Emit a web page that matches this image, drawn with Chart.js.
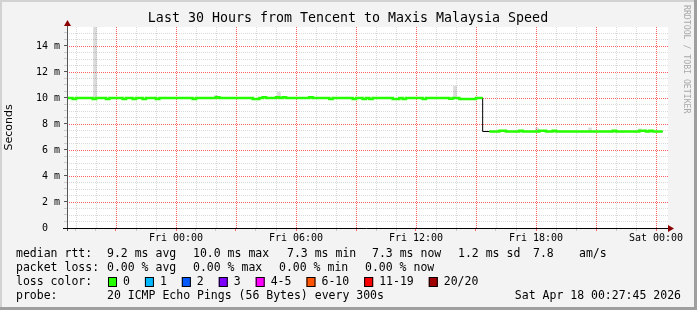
<!DOCTYPE html>
<html>
<head>
<meta charset="utf-8">
<title>Last 30 Hours from Tencent to Maxis Malaysia Speed</title>
<script src="https://cdn.jsdelivr.net/npm/chart.js@4.4.1/dist/chart.umd.min.js"></script>
<style>
    html, body { margin: 0; padding: 0; background: #f3f3f3; }
    #wrap { width: 697px; height: 310px; }
</style>
</head>
<body>
<div id="wrap"><canvas id="pingChart" width="697" height="310"></canvas></div>
<script>
// time is in hours counted from Thu 00:00, one median every 10 minutes
const startHour = 18.5;
const stepHour = 1 / 6;

// median rtt in ms
const medianMs = [
    10.0, 10.0, 10.0, 9.93, 10.0, 10.0, 10.0, 10.0, 10.0, 9.93,
    10.0, 10.0, 10.0, 9.93, 10.0, 10.0, 10.0, 10.0, 9.93, 10.0,
    10.0, 9.93, 10.0, 10.0, 9.93, 10.0, 10.0, 10.0, 9.93, 10.0,
    10.0, 10.0, 10.0, 10.0, 10.0, 10.0, 10.0, 10.0, 10.0, 9.93,
    10.0, 10.0, 10.0, 10.0, 10.0, 10.0, 10.05, 10.0, 10.0, 10.0,
    10.0, 10.0, 10.0, 10.0, 10.0, 10.0, 10.0, 9.93, 9.93, 10.0,
    10.05, 10.0, 10.0, 10.0, 10.05, 10.0, 10.05, 10.0, 10.0, 10.0,
    10.0, 10.0, 10.0, 10.0, 10.05, 10.0, 10.0, 10.0, 10.0, 10.0,
    9.93, 10.0, 10.0, 10.0, 10.0, 10.0, 10.0, 9.93, 10.0, 10.0,
    9.93, 10.0, 9.93, 10.0, 10.0, 10.0, 10.0, 10.0, 10.0, 9.93,
    9.93, 10.0, 9.93, 10.0, 10.0, 10.0, 10.0, 10.0, 9.93, 10.0,
    10.0, 10.0, 10.0, 10.0, 10.0, 10.0, 9.95, 10.0, 10.0, 9.93,
    9.93, 9.93, 9.93, 9.93, 10.0, 10.0,
    7.42, 7.42, 7.42, 7.42, 7.42, 7.48, 7.48, 7.42, 7.42, 7.42,
    7.42, 7.48, 7.42, 7.42, 7.42, 7.42, 7.42, 7.48, 7.48, 7.42,
    7.42, 7.48, 7.42, 7.42, 7.42, 7.42, 7.42, 7.42, 7.42, 7.42,
    7.42, 7.42, 7.42, 7.42, 7.42, 7.42, 7.42, 7.42, 7.42, 7.48,
    7.42, 7.42, 7.42, 7.42, 7.42, 7.42, 7.42, 7.48, 7.48, 7.42,
    7.48, 7.42, 7.42, 7.42
];
// samples where the loss-colour line is broken (the step down)
const lineBreaks = [126];

// smoke (spread of the pings), only where it sticks out of the median line
const smokeHour = [19.95, 26.0, 29.15, 37.95, 42.05, 44.7, 47.2];
const smokeLo = [9.9, 10.0, 10.0, 10.0, 7.42, 7.42, 7.42];
const smokeHi = [15.46, 10.2, 10.45, 10.9, 7.7, 7.7, 7.62];

const tickHours = [24, 30, 36, 42, 48];
const tickLabels = ['Fri 00:00', 'Fri 06:00', 'Fri 12:00', 'Fri 18:00', 'Sat 00:00'];

const titleText = 'Last 30 Hours from Tencent to Maxis Malaysia Speed';
const rttStats = ['9.2 ms avg', '10.0 ms max', '7.3 ms min', '7.3 ms now', '1.2 ms sd', '7.8', 'am/s'];
const lossStats = ['0.00 % avg', '0.00 % max', '0.00 % min', '0.00 % now'];
const lossLabels = ['0', '1', '2', '3', '4-5', '6-10', '11-19', '20/20'];
const lossColors = ['#26ff00', '#00b8ff', '#0059ff', '#7e00ff', '#ff00ff', '#ff5500', '#ff0000', '#a10000'];
const probeText = '20 ICMP Echo Pings (56 Bytes) every 300s';
const stampText = 'Sat Apr 18 00:27:45 2026';

const MONO = '"DejaVu Sans Mono", monospace';
const RED_GRID = '#ff6060';
const GRAY_GRID = '#dadada';

function isMultiple(v, step) {
    return Math.abs(v / step - Math.round(v / step)) < 1e-6;
}

// one grid line every `step`, rrdtool style (chart.js would thin them out)
function gridEvery(step) {
    return function(scale) {
        const ticks = [];
        for (let v = Math.ceil(scale.min / step) * step; v <= scale.max + 1e-9; v += step) {
            ticks.push({ value: Math.round(v * 1000) / 1000 });
        }
        scale.ticks = ticks;
    };
}

function majorColor(step, major, minor) {
    return c => {
        const t = c.tick || (c.scale && c.scale.ticks[c.index]);
        return (t && isMultiple(t.value, step)) ? major : minor;
    };
}

// dotted rrdtool grid, placed from the scales' own ticks
const rrdGrid = {
    id: 'rrdGrid',
    beforeDatasetsDraw(chart) {
        const { ctx, chartArea: a, scales } = chart;
        ctx.save();
        ctx.lineWidth = 1;
        ctx.setLineDash([1, 1]);
        // minor lines first so the red ones sit on top
        [false, true].forEach(major => {
            scales.x.ticks.forEach(t => {
                if (isMultiple(t.value, 3) !== major) return;
                const x = Math.round(scales.x.getPixelForValue(t.value)) + 0.5;
                ctx.strokeStyle = major ? RED_GRID : GRAY_GRID;
                ctx.beginPath();
                ctx.moveTo(x, Math.round(a.top));
                ctx.lineTo(x, Math.round(a.bottom));
                ctx.stroke();
            });
            scales.y.ticks.forEach(t => {
                if (t.value === 0 || isMultiple(t.value, 2) !== major) return;
                const y = Math.round(scales.y.getPixelForValue(t.value)) + 0.5;
                ctx.strokeStyle = major ? RED_GRID : GRAY_GRID;
                ctx.beginPath();
                ctx.moveTo(Math.round(a.left), y);
                ctx.lineTo(Math.round(a.right), y);
                ctx.stroke();
            });
        });
        ctx.restore();
    }
};

const rrdFrame = {
    id: 'rrdFrame',
    beforeDraw(chart) {
        const { ctx, chartArea: a, width, height } = chart;
        ctx.save();
        ctx.fillStyle = '#f3f3f3';
        ctx.fillRect(0, 0, width, height);
        ctx.fillStyle = '#ffffff';
        ctx.fillRect(a.left, a.top, a.right - a.left, a.bottom - a.top);
        ctx.restore();
    },
    afterDraw(chart) {
        const { ctx, chartArea: a, width, height } = chart;
        ctx.save();
        // 3d-ish frame round the image
        ctx.fillStyle = '#d2d2d2';
        ctx.fillRect(0, 0, width, 2);
        ctx.fillRect(0, 0, 2, height);
        ctx.fillStyle = '#9f9f9f';
        ctx.fillRect(0, height - 3, width, 3);
        ctx.fillRect(width - 3, 0, 3, height);

        // axes with arrows
        ctx.lineWidth = 1;
        ctx.strokeStyle = '#555';
        ctx.beginPath();
        ctx.moveTo(a.left + 0.5, a.bottom + 3);
        ctx.lineTo(a.left + 0.5, a.top - 4);
        ctx.stroke();
        ctx.strokeStyle = '#000';
        ctx.beginPath();
        ctx.moveTo(a.left - 4, a.bottom + 0.5);
        ctx.lineTo(a.right + 2, a.bottom + 0.5);
        ctx.stroke();
        ctx.fillStyle = '#8b0000';
        ctx.beginPath();
        ctx.moveTo(a.left + 0.5, a.top - 7);
        ctx.lineTo(a.left + 4, a.top - 1);
        ctx.lineTo(a.left - 3, a.top - 1);
        ctx.closePath();
        ctx.fill();
        ctx.beginPath();
        ctx.moveTo(a.right + 6, a.bottom + 0.5);
        ctx.lineTo(a.right, a.bottom - 3);
        ctx.lineTo(a.right, a.bottom + 4);
        ctx.closePath();
        ctx.fill();

        // title
        ctx.fillStyle = '#000';
        ctx.textBaseline = 'middle';
        ctx.textAlign = 'center';
        ctx.font = '13.3px ' + MONO;
        ctx.fillText(titleText, 348, 19);

        // rrdtool watermark on the right
        ctx.save();
        ctx.translate(686, 5);
        ctx.rotate(Math.PI / 2);
        ctx.textAlign = 'left';
        ctx.fillStyle = '#a8a8a8';
        ctx.font = '8.2px ' + MONO;
        ctx.fillText('RRDTOOL / TOBI OETIKER', 0, 0);
        ctx.restore();

        // legend lines under the graph
        ctx.textAlign = 'left';
        ctx.font = '11.5px ' + MONO;
        const rowY = [254, 268, 282, 296];
        ctx.fillText('median rtt:', 16, rowY[0]);
        const rttX = [107, 193, 287, 372, 458, 533, 579];
        rttStats.forEach((s, i) => ctx.fillText(s, rttX[i], rowY[0]));

        ctx.fillText('packet loss:', 16, rowY[1]);
        const lossX = [107, 193, 279, 365];
        lossStats.forEach((s, i) => ctx.fillText(s, lossX[i], rowY[1]));

        ctx.fillText('loss color:', 16, rowY[2]);
        let bx = 108;
        lossLabels.forEach((lab, i) => {
            ctx.fillStyle = lossColors[i];
            ctx.fillRect(bx, rowY[2] - 5, 9, 10);
            ctx.strokeStyle = '#000';
            ctx.strokeRect(bx + 0.5, rowY[2] - 4.5, 8, 9);
            ctx.fillStyle = '#000';
            ctx.fillText(lab, bx + 15, rowY[2]);
            bx = bx + 15 + ctx.measureText(lab).width + 15;
        });

        ctx.fillText('probe:', 16, rowY[3]);
        ctx.fillText(probeText, 107, rowY[3]);
        ctx.textAlign = 'right';
        ctx.fillText(stampText, 681, rowY[3]);
        ctx.restore();
    }
};

const hourOf = i => startHour + i * stepHour;

const ctx = document.getElementById('pingChart').getContext('2d');
const pingChart = new Chart(ctx, {
    type: 'line',
    data: {
        datasets: [
            {
                // median coloured by loss (all 0 % here)
                type: 'line',
                data: medianMs.map((v, i) => ({ x: hourOf(i), y: lineBreaks.includes(i) ? null : v })),
                borderColor: lossColors[0],
                borderWidth: 2.5,
                pointRadius: 0,
                stepped: 'after',
                spanGaps: false,
                order: 0
            },
            {
                // thin dark median underneath, shows the step
                type: 'line',
                data: medianMs.map((v, i) => ({ x: hourOf(i), y: v })),
                borderColor: '#000',
                borderWidth: 1,
                pointRadius: 0,
                stepped: 'after',
                order: 1
            },
            {
                type: 'bar',
                data: smokeHour.map((h, i) => ({ x: h, y: [smokeLo[i], smokeHi[i]] })),
                backgroundColor: 'rgba(0,0,0,0.14)',
                borderWidth: 0,
                barThickness: 3,
                order: 2
            }
        ]
    },
    options: {
        responsive: false,
        animation: false,
        events: [],
        layout: { padding: { left: 0, top: 27, right: 29, bottom: 62 } },
        plugins: {
            legend: { display: false },
            tooltip: { enabled: false },
            title: { display: false }
        },
        scales: {
            x: {
                type: 'linear',
                min: 18.55,
                max: 48.6,
                offset: false,
                afterBuildTicks: gridEvery(1),
                afterFit: s => { s.height = 20; },
                ticks: {
                    autoSkip: false,
                    maxRotation: 0,
                    minRotation: 0,
                    padding: 1,
                    color: '#000',
                    font: { family: MONO, size: 10 },
                    callback: v => {
                        const k = tickHours.indexOf(v);
                        return k >= 0 ? tickLabels[k] : '';
                    }
                },
                grid: {
                    offset: false,
                    drawOnChartArea: false,
                    tickLength: 3,
                    tickColor: majorColor(3, '#ff6060', '#c8c8c8')
                },
                border: { display: false }
            },
            y: {
                type: 'linear',
                min: 0,
                max: 15.46,
                afterBuildTicks: gridEvery(0.5),
                afterFit: s => { s.width = 67; },
                ticks: {
                    autoSkip: false,
                    padding: 4,
                    color: '#000',
                    font: { family: MONO, size: 10 },
                    callback: v => {
                        if (!isMultiple(v, 2)) return '';
                        return v === 0 ? '0  ' : v + ' m';
                    }
                },
                grid: {
                    drawOnChartArea: false,
                    tickLength: 3,
                    tickColor: majorColor(2, '#555', '#cccccc')
                },
                border: { display: false },
                title: {
                    display: true,
                    text: 'Seconds',
                    color: '#000',
                    font: { family: '"DejaVu Sans", sans-serif', size: 11 },
                    padding: { top: 3, bottom: 0 }
                }
            }
        }
    },
    plugins: [rrdFrame, rrdGrid]
});
</script>
</body>
</html>
